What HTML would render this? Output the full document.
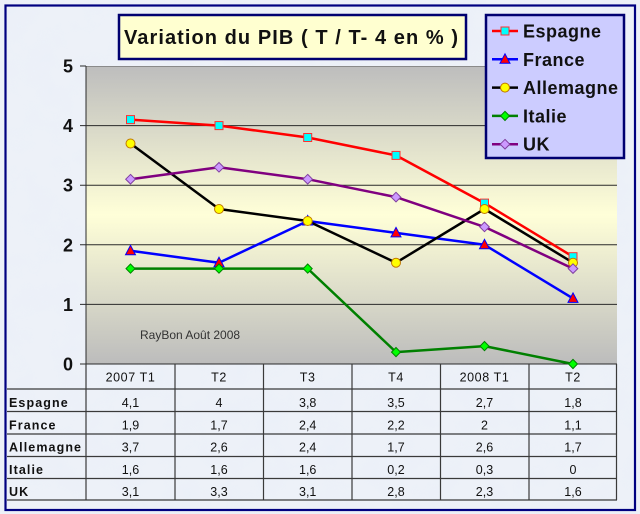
<!DOCTYPE html>
<html><head><meta charset="utf-8"><style>
html,body{margin:0;padding:0;background:#e9eef6;}
svg{display:block;}
text{font-family:"Liberation Sans",Arial,sans-serif;}
</style></head><body>
<svg width="640" height="514" viewBox="0 0 640 514" xmlns="http://www.w3.org/2000/svg">
<defs>
<linearGradient id="pg" x1="0" y1="0" x2="0" y2="1">
<stop offset="0" stop-color="#bdbdbd"/>
<stop offset="0.5" stop-color="#ffffd8"/>
<stop offset="1" stop-color="#bcbcbc"/>
</linearGradient>
<filter id="tex" x="0" y="0" width="100%" height="100%">
<feTurbulence type="fractalNoise" baseFrequency="0.035" numOctaves="3" seed="4"/>
<feColorMatrix type="matrix" values="0 0 0 0 0.80  0 0 0 0 0.85  0 0 0 0 0.95  0 0 0 -1.3 0.75"/>
</filter>
</defs>
<rect x="0" y="0" width="640" height="514" fill="#edf1f8"/>
<rect x="0" y="0" width="640" height="514" filter="url(#tex)" opacity="0.6"/>

<!-- plot area -->
<rect x="86" y="66" width="531" height="298" fill="url(#pg)"/>
<line x1="86" y1="66.5" x2="617" y2="66.5" stroke="#8a8a8a" stroke-width="1"/>
<g stroke="#2a2a2a" stroke-width="1">
<line x1="80" y1="125.6" x2="617" y2="125.6"/>
<line x1="80" y1="185.2" x2="617" y2="185.2"/>
<line x1="80" y1="244.8" x2="617" y2="244.8"/>
<line x1="80" y1="304.4" x2="617" y2="304.4"/>
<line x1="80" y1="66" x2="86" y2="66"/>
<line x1="80" y1="364" x2="617" y2="364"/>
<line x1="86" y1="66" x2="86" y2="364"/>
</g>
<g font-size="18" font-weight="bold" fill="#111" text-anchor="end">
<text x="73" y="72.5">5</text>
<text x="73" y="132">4</text>
<text x="73" y="191.7">3</text>
<text x="73" y="251.3">2</text>
<text x="73" y="310.9">1</text>
<text x="73" y="370.5">0</text>
</g>
<text x="140" y="339" font-size="12" fill="#333">RayBon Août 2008</text>

<!-- series lines -->
<g fill="none" stroke-width="2.5" stroke-linejoin="round">
<polyline stroke="#ff0000" points="130.5,119.6 219,125.6 307.7,137.5 396,155.4 484.5,203.1 573,256.7"/>
<polyline stroke="#0000ff" points="130.5,250.8 219,262.7 307.7,221 396,232.9 484.5,244.8 573,298.4"/>
<polyline stroke="#000000" points="130.5,143.5 219,209 307.7,221 396,262.7 484.5,209 573,262.7"/>
<polyline stroke="#008000" points="130.5,268.6 219,268.6 307.7,268.6 396,352.1 484.5,346.1 573,364"/>
<polyline stroke="#800080" points="130.5,179.2 219,167.3 307.7,179.2 396,197.1 484.5,226.9 573,268.6"/>
</g>
<!-- markers Espagne -->
<g fill="#00ffff" stroke="#ff3030" stroke-width="1">
<rect x="126.5" y="115.6" width="8" height="8"/>
<rect x="215" y="121.6" width="8" height="8"/>
<rect x="303.7" y="133.5" width="8" height="8"/>
<rect x="392" y="151.4" width="8" height="8"/>
<rect x="480.5" y="199.1" width="8" height="8"/>
<rect x="569" y="252.7" width="8" height="8"/>
</g>
<!-- France triangles -->
<g fill="#ff0000" stroke="#0000ff" stroke-width="1">
<polygon points="130.5,245.3 135.5,254.8 125.5,254.8"/>
<polygon points="219,257.2 224,266.7 214,266.7"/>
<polygon points="307.7,215.5 312.7,225 302.7,225"/>
<polygon points="396,227.4 401,236.9 391,236.9"/>
<polygon points="484.5,239.3 489.5,248.8 479.5,248.8"/>
<polygon points="573,292.9 578,302.4 568,302.4"/>
</g>
<!-- Allemagne circles -->
<g fill="#ffff00" stroke="#c07800" stroke-width="1">
<circle cx="130.5" cy="143.5" r="4.5"/>
<circle cx="219" cy="209" r="4.5"/>
<circle cx="307.7" cy="221" r="4.5"/>
<circle cx="396" cy="262.7" r="4.5"/>
<circle cx="484.5" cy="209" r="4.5"/>
<circle cx="573" cy="262.7" r="4.5"/>
</g>
<!-- Italie diamonds -->
<g fill="#00ff00" stroke="#008000" stroke-width="1">
<polygon points="130.5,264 135,268.6 130.5,273.2 126,268.6"/>
<polygon points="219,264 223.5,268.6 219,273.2 214.5,268.6"/>
<polygon points="307.7,264 312.2,268.6 307.7,273.2 303.2,268.6"/>
<polygon points="396,347.5 400.5,352.1 396,356.7 391.5,352.1"/>
<polygon points="484.5,341.5 489,346.1 484.5,350.7 480,346.1"/>
<polygon points="573,359.4 577.5,364 573,368.6 568.5,364"/>
</g>
<!-- UK diamonds -->
<g fill="#cc99ff" stroke="#8040a0" stroke-width="1">
<polygon points="130.5,174.4 135.3,179.2 130.5,184 125.7,179.2"/>
<polygon points="219,162.5 223.8,167.3 219,172.1 214.2,167.3"/>
<polygon points="307.7,174.4 312.5,179.2 307.7,184 302.9,179.2"/>
<polygon points="396,192.3 400.8,197.1 396,201.9 391.2,197.1"/>
<polygon points="484.5,222.1 489.3,226.9 484.5,231.7 479.7,226.9"/>
<polygon points="573,263.8 577.8,268.6 573,273.4 568.2,268.6"/>
</g>

<!-- data table -->
<g stroke="#3a3a3a" stroke-width="1.2">
<line x1="7" y1="389" x2="617" y2="389"/>
<line x1="7" y1="411.5" x2="617" y2="411.5"/>
<line x1="7" y1="434" x2="617" y2="434"/>
<line x1="7" y1="456.5" x2="617" y2="456.5"/>
<line x1="7" y1="478.5" x2="617" y2="478.5"/>
<line x1="7" y1="500" x2="617" y2="500"/>
<line x1="86" y1="364" x2="86" y2="500"/>
<line x1="175" y1="364" x2="175" y2="500"/>
<line x1="263.5" y1="364" x2="263.5" y2="500"/>
<line x1="352" y1="364" x2="352" y2="500"/>
<line x1="440.5" y1="364" x2="440.5" y2="500"/>
<line x1="529" y1="364" x2="529" y2="500"/>
<line x1="616.5" y1="364" x2="616.5" y2="500"/>
</g>
<g font-size="12.5" fill="#111" text-anchor="middle" letter-spacing="0.6">
<text x="130.5" y="381.5">2007 T1</text>
<text x="219" y="381.5">T2</text>
<text x="307.7" y="381.5">T3</text>
<text x="396" y="381.5">T4</text>
<text x="484.5" y="381.5">2008 T1</text>
<text x="573" y="381.5">T2</text>
</g>
<g font-size="12.5" font-weight="bold" fill="#111" letter-spacing="1.1">
<text x="9" y="407">Espagne</text>
<text x="9" y="429.5">France</text>
<text x="9" y="451.5">Allemagne</text>
<text x="9" y="474">Italie</text>
<text x="9" y="496">UK</text>
</g>
<g font-size="12.5" fill="#111" text-anchor="middle">
<text x="130.5" y="407">4,1</text><text x="219" y="407">4</text><text x="307.7" y="407">3,8</text><text x="396" y="407">3,5</text><text x="484.5" y="407">2,7</text><text x="573" y="407">1,8</text>
<text x="130.5" y="429.5">1,9</text><text x="219" y="429.5">1,7</text><text x="307.7" y="429.5">2,4</text><text x="396" y="429.5">2,2</text><text x="484.5" y="429.5">2</text><text x="573" y="429.5">1,1</text>
<text x="130.5" y="451.5">3,7</text><text x="219" y="451.5">2,6</text><text x="307.7" y="451.5">2,4</text><text x="396" y="451.5">1,7</text><text x="484.5" y="451.5">2,6</text><text x="573" y="451.5">1,7</text>
<text x="130.5" y="474">1,6</text><text x="219" y="474">1,6</text><text x="307.7" y="474">1,6</text><text x="396" y="474">0,2</text><text x="484.5" y="474">0,3</text><text x="573" y="474">0</text>
<text x="130.5" y="496">3,1</text><text x="219" y="496">3,3</text><text x="307.7" y="496">3,1</text><text x="396" y="496">2,8</text><text x="484.5" y="496">2,3</text><text x="573" y="496">1,6</text>
</g>

<!-- title -->
<rect x="119" y="15" width="347" height="44" fill="#ffffd0" stroke="#000070" stroke-width="2.5"/>
<text x="124" y="44" font-size="20" font-weight="bold" fill="#111" textLength="334" lengthAdjust="spacing">Variation du PIB ( T / T- 4 en % )</text>

<!-- legend -->
<rect x="486" y="15" width="138" height="143" fill="#ccccff" stroke="#000070" stroke-width="2.5"/>
<g stroke-width="2.5">
<line x1="492" y1="31" x2="518" y2="31" stroke="#ff0000"/>
<line x1="492" y1="59.3" x2="518" y2="59.3" stroke="#0000ff"/>
<line x1="492" y1="87.6" x2="518" y2="87.6" stroke="#000000"/>
<line x1="492" y1="115.9" x2="518" y2="115.9" stroke="#008000"/>
<line x1="492" y1="144.2" x2="518" y2="144.2" stroke="#800080"/>
</g>
<rect x="501" y="27" width="8" height="8" fill="#00ffff" stroke="#ff3030" stroke-width="1"/>
<polygon points="505,53.8 510,63.3 500,63.3" fill="#ff0000" stroke="#0000ff" stroke-width="1"/>
<circle cx="505" cy="87.6" r="4.5" fill="#ffff00" stroke="#c07800" stroke-width="1"/>
<polygon points="505,111.3 509.5,115.9 505,120.5 500.5,115.9" fill="#00ff00" stroke="#008000" stroke-width="1"/>
<polygon points="505,139.4 509.8,144.2 505,149 500.2,144.2" fill="#cc99ff" stroke="#8040a0" stroke-width="1"/>
<g font-size="18" font-weight="bold" fill="#111" letter-spacing="0.5">
<text x="523" y="37.5">Espagne</text>
<text x="523" y="65.8">France</text>
<text x="523" y="94.1">Allemagne</text>
<text x="523" y="122.4">Italie</text>
<text x="523" y="150.7">UK</text>
</g>

<!-- outer frame -->
<rect x="5.5" y="5.5" width="629.5" height="504.5" fill="none" stroke="#000080" stroke-width="2.2"/>
</svg>
</body></html>
